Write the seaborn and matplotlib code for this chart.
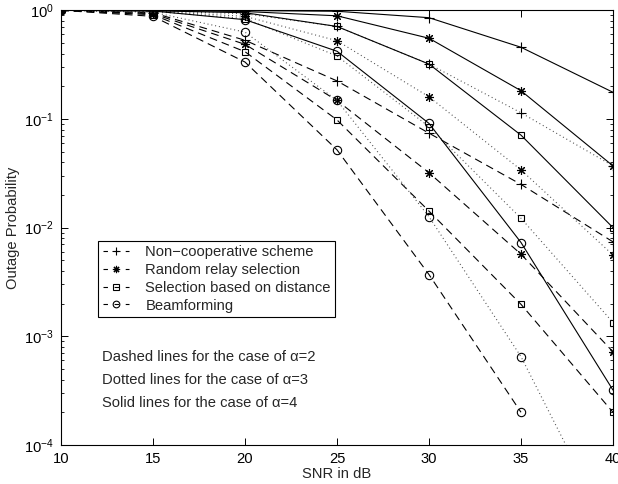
import numpy as np
import pandas as pd
import matplotlib
matplotlib.use("Agg")
import matplotlib.pyplot as plt
from matplotlib.lines import Line2D
import seaborn as sns

# ---------------- data ----------------
snr_db = [10, 15, 20, 25, 30, 35, 40]

schemes = ["Non\u2212cooperative scheme", "Random relay selection",
           "Selection based on distance", "Beamforming"]
alphas = [2, 3, 4]

# alpha = 2 (dashed)
noncoop_a2 = [1.0, 0.95, 0.53, 0.224, 0.074, 0.025, 0.0074]
random_a2 = [1.0, 0.93, 0.486, 0.148, 0.032, 0.0057, 0.00072]
dist_a2 = [1.0, 0.91, 0.416, 0.098, 0.0142, 0.00197, 0.0002]
beam_a2 = [1.0, 0.88, 0.334, 0.052, 0.0037, 0.0002, np.nan]

# alpha = 3 (dotted)
noncoop_a3 = [1.0, 0.985, 0.93, 0.71, 0.32, 0.114, 0.037]
random_a3 = [1.0, 0.98, 0.88, 0.525, 0.16, 0.034, 0.0056]
dist_a3 = [1.0, 0.975, 0.84, 0.38, 0.085, 0.0122, 0.00134]
beam_a3 = [1.0, 0.96, 0.63, 0.148, 0.0126, 0.00065, 1.4e-5]

# alpha = 4 (solid)
noncoop_a4 = [1.0, 1.0, 0.995, 0.98, 0.855, 0.457, 0.176]
random_a4 = [1.0, 0.995, 0.975, 0.89, 0.553, 0.182, 0.037]
dist_a4 = [1.0, 0.99, 0.95, 0.71, 0.32, 0.071, 0.0100]
beam_a4 = [1.0, 0.985, 0.82, 0.42, 0.091, 0.0073, 0.00032]

series_values = {
    2: [noncoop_a2, random_a2, dist_a2, beam_a2],
    3: [noncoop_a3, random_a3, dist_a3, beam_a3],
    4: [noncoop_a4, random_a4, dist_a4, beam_a4],
}

annotation_lines = ["Dashed lines for the case of \u03b1=2",
                    "Dotted lines for the case of \u03b1=3",
                    "Solid lines for the case of \u03b1=4"]

# ---------------- styles ----------------
scheme_markers = ["+", (8, 2, 0), "s", "o"]
scheme_msize = [6.5, 6.5, 5.0, 6.0]
alpha_dashes = {2: (7, 4.5), 3: (0.9, 2.6), 4: ""}

rows = []
for a in alphas:
    for s, vals in zip(schemes, series_values[a]):
        for x, v in zip(snr_db, vals):
            rows.append({"snr": x, "prob": v, "scheme": s, "alpha": a})
df = pd.DataFrame(rows)

sns.set_style("ticks")
plt.rcParams["font.family"] = ["Liberation Sans", "DejaVu Sans"]
plt.rcParams["mathtext.fontset"] = "custom"
plt.rcParams["mathtext.rm"] = "Liberation Sans"
plt.rcParams["mathtext.it"] = "Liberation Sans:italic"
plt.rcParams["mathtext.default"] = "regular"

FS = 10.6

fig = plt.figure(figsize=(6.18, 4.84), dpi=100)
ax = fig.add_axes([61 / 618, 1 - 445 / 484, 552 / 618, (445 - 10.3) / 484])

for i, s in enumerate(schemes):
    sub = df[df["scheme"] == s]
    n0 = len(ax.lines)
    sns.lineplot(data=sub, x="snr", y="prob", style="alpha",
                 style_order=alphas, markers=False, dashes=alpha_dashes,
                 marker=scheme_markers[i], ms=scheme_msize[i],
                 color="black", lw=0.8, mec="black", mfc="none", mew=0.8,
                 legend=False, ax=ax, sort=True, errorbar=None)
    new = ax.lines[n0:]
    for a, ln in zip(alphas, new):
        if a == 3:
            ln.set_color("0.3")
            ln.set_markeredgecolor("black")

ax.set_yscale("log")
ax.set_xlim(10, 40)
ax.set_ylim(1e-4, 1)
ax.set_xticks([10, 15, 20, 25, 30, 35, 40])
ax.set_xticklabels(["10", "15", "20", "25", "30", "35", "40"])
ax.set_xlabel("SNR in dB", fontsize=FS, labelpad=1)
ax.set_ylabel("Outage Probability", fontsize=FS, labelpad=3)

for sp in ax.spines.values():
    sp.set_visible(True)
    sp.set_linewidth(0.8)
    sp.set_color("black")

ax.tick_params(which="both", direction="in", top=True, right=True,
               colors="black", labelsize=FS)
ax.tick_params(which="major", length=5, width=0.7, pad=5)
ax.tick_params(which="minor", length=2.5, width=0.6)
ax.tick_params(axis="x", which="minor", bottom=False, top=False)

# legend
handles = []
for i, s in enumerate(schemes):
    handles.append(Line2D([], [], color="black", lw=0.8, dashes=(4, 6),
                          marker=scheme_markers[i], ms=scheme_msize[i] * 0.8,
                          mfc="none", mec="black", mew=0.8))
leg = ax.legend(handles, schemes, loc="upper left",
                bbox_to_anchor=(0.0676, 0.470), borderaxespad=0,
                fontsize=FS, handlelength=1.8, handletextpad=1.1,
                labelspacing=0.26, borderpad=0.3, fancybox=False,
                framealpha=1, edgecolor="black")
leg.get_frame().set_linewidth(0.8)

ys = [0.2024, 0.1495, 0.0966]
for t, y in zip(annotation_lines, ys):
    ax.text(0.0737, y, t, transform=ax.transAxes, fontsize=FS,
            va="center", ha="left")

fig.savefig("out.png", dpi=100)
